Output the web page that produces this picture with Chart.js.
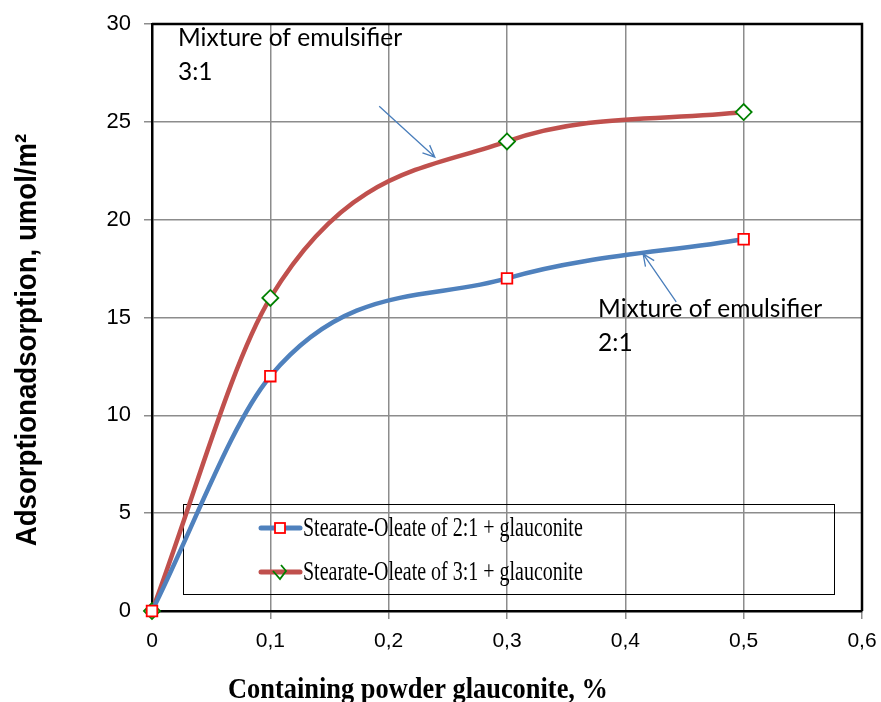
<!DOCTYPE html>
<html>
<head>
<meta charset="utf-8">
<script src="https://cdn.jsdelivr.net/npm/chart.js@4.4.1/dist/chart.umd.min.js"></script>
<style>
  html, body { margin: 0; padding: 0; background: #fff; }
  #wrap { width: 881px; height: 702px; position: relative; }
</style>
</head>
<body>
<div id="wrap"><canvas id="line_chart"></canvas></div>
<script>
// data
const powder = [0, 0.1, 0.3, 0.5];
const mix21 = [0, 12, 17, 19];
const mix31 = [0, 16, 24, 25.5];
const seriesNames = ['Stearate-Oleate of 2:1 + glauconite', 'Stearate-Oleate of 3:1 + glauconite'];
const xTitle = 'Containing powder glauconite, %';
const yTitle = 'Adsorptionadsorption, umol/m\u00B2';

const blue = '#4F81BD';
const red = '#C0504D';

function toPoints(ys) {
    let pts = [];
    for (let i = 0; i < powder.length; i++) {
        pts.push({ x: powder[i], y: ys[i] });
    }
    return pts;
}

// arrow with open head
function arrow(ctx, x1, y1, x2, y2) {
    let a = Math.atan2(y2 - y1, x2 - x1);
    let h = 13;
    ctx.beginPath();
    ctx.moveTo(x1, y1);
    ctx.lineTo(x2, y2);
    ctx.moveTo(x2 - h * Math.cos(a - 0.42), y2 - h * Math.sin(a - 0.42));
    ctx.lineTo(x2, y2);
    ctx.lineTo(x2 - h * Math.cos(a + 0.42), y2 - h * Math.sin(a + 0.42));
    ctx.stroke();
}

const legendBox = {
    id: 'legendBox',
    beforeDatasetsDraw(chart) {
        const ctx = chart.ctx;
        const a = chart.chartArea;
        ctx.save();
        ctx.strokeStyle = '#000';
        ctx.lineWidth = 1;
        ctx.strokeRect(a.left + 31.5, 504.5, 651, 90);

        let rows = [528, 572];
        let colors = [blue, red];
        for (let i = 0; i < 2; i++) {
            ctx.strokeStyle = colors[i];
            ctx.lineWidth = 5;
            ctx.lineCap = 'round';
            ctx.beginPath();
            ctx.moveTo(261, rows[i]);
            ctx.lineTo(300, rows[i]);
            ctx.stroke();
            ctx.lineWidth = 1.8;
            if (i === 0) {
                ctx.strokeStyle = '#FF0000';
                ctx.fillStyle = '#fff';
                ctx.fillRect(275, rows[i] - 5, 10, 10);
                ctx.strokeRect(275, rows[i] - 5, 10, 10);
            } else {
                ctx.strokeStyle = '#008000';
                ctx.lineCap = 'butt';
                ctx.beginPath();
                ctx.moveTo(273, rows[i] - 1);
                ctx.lineTo(280, rows[i] + 7);
                ctx.lineTo(286, rows[i] - 1);
                ctx.lineTo(281, rows[i] - 7);
                ctx.stroke();
            }
            ctx.save();
            ctx.fillStyle = '#000';
            ctx.font = '27px "Liberation Serif", "Times New Roman", serif';
            ctx.textBaseline = 'middle';
            ctx.translate(303, rows[i] + 1);
            ctx.scale(0.74, 1);
            ctx.fillText(seriesNames[i], 0, 0);
            ctx.restore();
        }
        ctx.restore();
    }
};

const decorations = {
    id: 'decorations',
    afterDraw(chart) {
        const ctx = chart.ctx;
        const a = chart.chartArea;
        const xs = chart.scales.x;
        const ys = chart.scales.y;
        ctx.save();

        // frame on top and right
        ctx.strokeStyle = '#000';
        ctx.lineWidth = 2.5;
        ctx.beginPath();
        ctx.moveTo(a.left, a.top);
        ctx.lineTo(a.right, a.top);
        ctx.lineTo(a.right, a.bottom);
        ctx.stroke();

        // notes
        ctx.fillStyle = '#000';
        ctx.font = '24.5px Lato, "Open Sans", sans-serif';
        ctx.textBaseline = 'middle';
        ctx.fillText('Mixture of emulsifier', xs.getPixelForValue(0.022), ys.getPixelForValue(29.3));
        ctx.fillText('3:1', xs.getPixelForValue(0.022), ys.getPixelForValue(27.55));
        ctx.fillText('Mixture of emulsifier', xs.getPixelForValue(0.377), ys.getPixelForValue(15.45));
        ctx.fillText('2:1', xs.getPixelForValue(0.377), ys.getPixelForValue(13.7));

        ctx.strokeStyle = '#4A7EBB';
        ctx.lineWidth = 1.3;
        arrow(ctx, xs.getPixelForValue(0.192), ys.getPixelForValue(25.8), xs.getPixelForValue(0.239), ys.getPixelForValue(23.2));
        arrow(ctx, xs.getPixelForValue(0.443), ys.getPixelForValue(15.8), xs.getPixelForValue(0.415), ys.getPixelForValue(18.25));

        // axis titles
        ctx.fillStyle = '#000';
        ctx.save();
        ctx.font = 'bold 30px "Liberation Serif", "Times New Roman", serif';
        ctx.textAlign = 'center';
        ctx.textBaseline = 'alphabetic';
        ctx.translate(418, 698);
        ctx.scale(0.88, 1);
        ctx.fillText(xTitle, 0, 0);
        ctx.restore();

        ctx.save();
        ctx.font = 'bold 30px "Liberation Sans", Arial, sans-serif';
        ctx.textAlign = 'center';
        ctx.textBaseline = 'middle';
        ctx.translate(28, 340);
        ctx.rotate(-Math.PI / 2);
        ctx.scale(0.92, 1);
        ctx.fillText(yTitle, 0, 0);
        ctx.restore();

        ctx.restore();
    }
};

const config = {
    type: 'scatter',
    data: {
        datasets: [{
            label: seriesNames[0],
            data: toPoints(mix21),
            showLine: true,
            clip: false,
            borderColor: blue,
            borderWidth: 4.5,
            cubicInterpolationMode: 'monotone',
            pointStyle: 'rect',
            pointRadius: 7.5,
            pointBorderWidth: 1.8,
            pointBorderColor: '#FF0000',
            pointBackgroundColor: '#fff'
        }, {
            label: seriesNames[1],
            data: toPoints(mix31),
            showLine: true,
            clip: false,
            borderColor: red,
            borderWidth: 4.5,
            cubicInterpolationMode: 'monotone',
            pointStyle: 'rectRot',
            pointRadius: 8,
            pointBorderWidth: 1.8,
            pointBorderColor: '#008000',
            pointBackgroundColor: '#fff'
        }]
    },
    options: {
        responsive: true,
        maintainAspectRatio: false,
        animation: false,
        layout: { padding: { top: 24, right: 19, left: 0, bottom: 0 } },
        plugins: {
            legend: { display: false },
            tooltip: { enabled: false }
        },
        scales: {
            x: {
                type: 'linear',
                min: 0,
                max: 0.6,
                afterFit: function (scale) {
                    scale.height = 91;
                    scale.paddingLeft = 0;
                    scale.paddingRight = 0;
                },
                ticks: {
                    stepSize: 0.1,
                    padding: 10,
                    color: '#000',
                    font: { family: '"Liberation Sans", Arial, sans-serif', size: 21 },
                    callback: function (v) { return v === 0 ? '0' : v.toFixed(1).replace('.', ','); }
                },
                grid: { color: '#8c8c8c', lineWidth: 1.5, tickLength: 8 },
                border: { color: '#000', width: 2.5 }
            },
            y: {
                min: 0,
                max: 30,
                afterFit: function (scale) {
                    scale.width = 152;
                    scale.paddingTop = 0;
                    scale.paddingBottom = 0;
                },
                ticks: {
                    stepSize: 5,
                    padding: 13,
                    color: '#000',
                    font: { family: '"Liberation Sans", Arial, sans-serif', size: 22 }
                },
                grid: { color: '#8c8c8c', lineWidth: 1.5, tickLength: 8 },
                border: { color: '#000', width: 2.5 }
            }
        }
    },
    plugins: [legendBox, decorations]
};

new Chart(document.getElementById('line_chart').getContext('2d'), config);
</script>
</body>
</html>
